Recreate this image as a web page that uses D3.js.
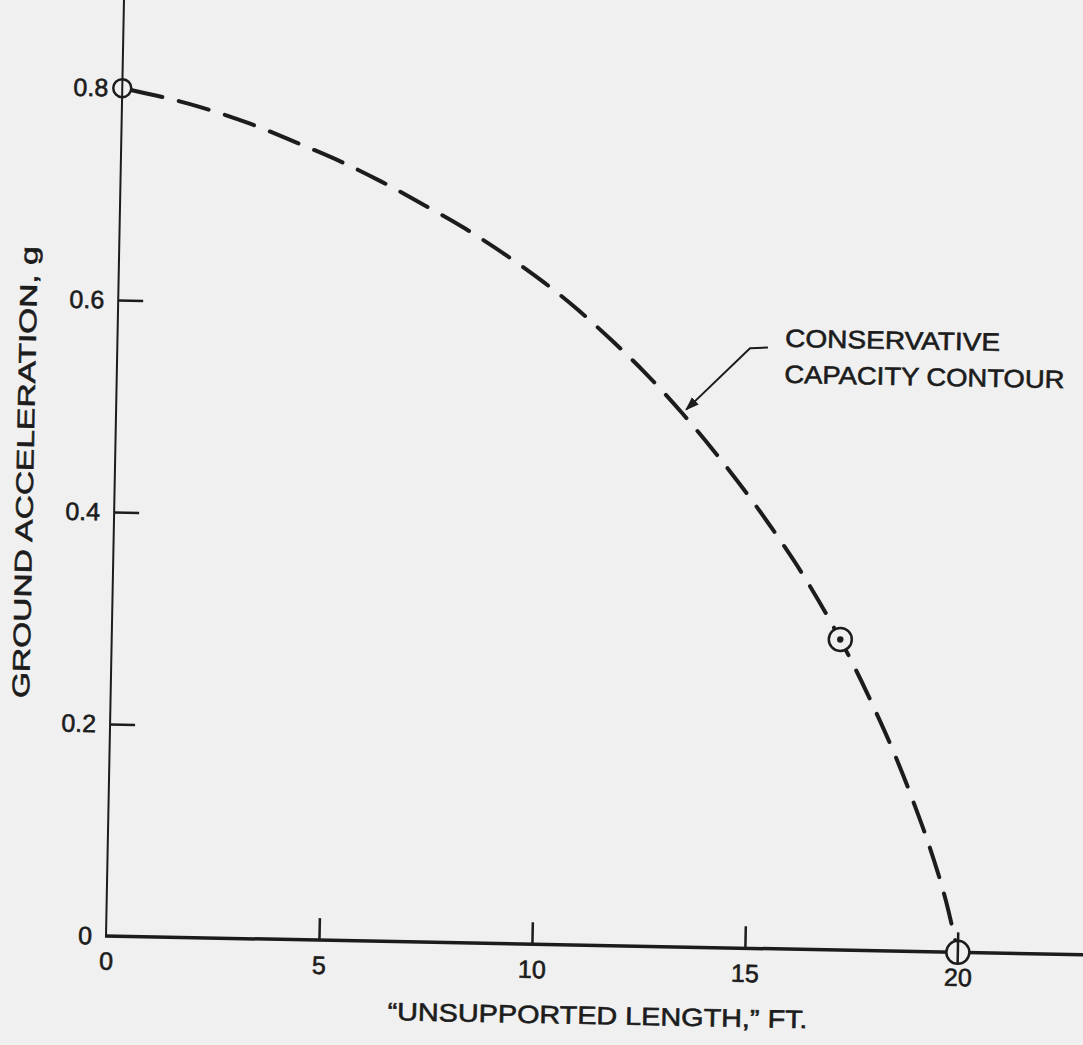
<!DOCTYPE html>
<html>
<head>
<meta charset="utf-8">
<script src="https://cdn.jsdelivr.net/npm/d3@7"></script>
<style>
  html, body { margin: 0; padding: 0; background: #f0f0f0; }
  svg { display: block; }
</style>
</head>
<body>
<div id="vis"></div>
<script>
// capacity contour (ft, g)
var lengthFt = [0, 1.8, 3.0, 4.1, 5.2, 6.1, 7.1, 8.1, 9.1, 10.0, 10.8, 11.6, 12.4, 13.3, 14.1, 15.6, 16.2, 17.1, 17.9, 18.5, 18.9, 19.35, 19.7, 20];
var accelG = [0.8, 0.784, 0.769, 0.752, 0.734, 0.717, 0.696, 0.674, 0.649, 0.624, 0.599, 0.571, 0.541, 0.503, 0.466, 0.388, 0.353, 0.293, 0.231, 0.179, 0.140, 0.092, 0.048, 0];

// circled points on the contour
var markerFt = [0, 17.1, 20];
var markerG = [0.8, 0.293, 0];
var markerKind = ['open', 'dot', 'cross'];

var xTicks = [0, 5, 10, 15, 20];
var yTicks = [0, 0.2, 0.4, 0.6, 0.8];

var xTitle = '\u201CUNSUPPORTED LENGTH,\u201D FT.';
var yTitle = 'GROUND ACCELERATION, g';
var noteLines = ['CONSERVATIVE', 'CAPACITY CONTOUR'];

var width = 1083;
var height = 1045;
var paper = '#f0f0f0';
var ink = '#1c1c1c';
var font = '"Liberation Sans", Arial, sans-serif';

var svg = d3.select('#vis')
    .append('svg')
    .attr('width', width)
    .attr('height', height);

svg.append('rect')
    .attr('width', width)
    .attr('height', height)
    .attr('fill', paper);

// the scanned page sits a little crooked, so rotate the whole plot
var g = svg.append('g')
    .attr('transform', 'translate(106,936) rotate(1.1)');

var x = d3.scaleLinear().domain([0, 20]).range([0, 852]);
var y = d3.scaleLinear().domain([0, 0.8]).range([0, -848]);

// axis lines
g.append('line')
    .attr('x1', x(0)).attr('x2', x(0))
    .attr('y1', y(0)).attr('y2', y(0.885))
    .attr('stroke', ink)
    .attr('stroke-width', 2);

g.append('line')
    .attr('x1', x(0) - 1).attr('x2', x(23.5))
    .attr('y1', y(0)).attr('y2', y(0))
    .attr('stroke', ink)
    .attr('stroke-width', 3.5);

var yAxis = g.append('g')
    .call(d3.axisLeft(y)
        .tickValues(yTicks)
        .tickSize(-25)
        .tickPadding(14)
        .tickFormat(function (d) { return d === 0 ? '0' : d3.format('.1f')(d); }));

var xAxis = g.append('g')
    .call(d3.axisBottom(x)
        .tickValues(xTicks)
        .tickSize(-22)
        .tickPadding(16)
        .tickFormat(d3.format('d')));

[yAxis, xAxis].forEach(function (ax) {
    ax.select('.domain').remove();
    ax.attr('font-family', font).attr('font-size', 25);
    ax.selectAll('text')
        .attr('fill', ink)
        .attr('stroke', ink)
        .attr('stroke-width', 0.6);
    ax.selectAll('.tick line').attr('stroke', ink).attr('stroke-width', 2.5);
});
yAxis.selectAll('.tick line').filter(function (d) { return d === 0 || d === 0.8; }).remove();
xAxis.selectAll('.tick line').filter(function (d) { return d === 0 || d === 20; }).remove();

// axis titles
g.append('text')
    .attr('transform', 'translate(-90,' + y(0.436) + ') rotate(-90)')
    .attr('text-anchor', 'middle')
    .attr('dy', '0.35em')
    .attr('font-family', font)
    .attr('font-size', 24)
    .attr('textLength', 452)
    .attr('lengthAdjust', 'spacingAndGlyphs')
    .attr('fill', ink)
    .attr('stroke', ink)
    .attr('stroke-width', 0.6)
    .text(yTitle);

g.append('text')
    .attr('x', 493)
    .attr('y', 70)
    .attr('text-anchor', 'middle')
    .attr('dy', '0.35em')
    .attr('font-family', font)
    .attr('font-size', 25)
    .attr('textLength', 420)
    .attr('lengthAdjust', 'spacingAndGlyphs')
    .attr('fill', ink)
    .attr('stroke', ink)
    .attr('stroke-width', 0.6)
    .text(xTitle);

// dashed contour
var points = lengthFt.map(function (d, i) { return [d, accelG[i]]; });

var line = d3.line()
    .x(function (d) { return x(d[0]); })
    .y(function (d) { return y(d[1]); })
    .curve(d3.curveMonotoneX);

g.append('path')
    .datum(points)
    .attr('d', line)
    .attr('fill', 'none')
    .attr('stroke', ink)
    .attr('stroke-width', 4)
    .attr('stroke-linecap', 'round')
    .attr('stroke-dasharray', '31,17')
    .attr('stroke-dashoffset', -10);

// circled points
var markers = markerFt.map(function (d, i) {
    return { ft: d, g: markerG[i], kind: markerKind[i] };
});

var mk = g.selectAll('.marker')
    .data(markers)
    .enter().append('g')
    .attr('class', 'marker')
    .attr('transform', function (d) { return 'translate(' + x(d.ft) + ',' + y(d.g) + ')'; });

mk.append('circle')
    .attr('r', function (d) { return d.kind === 'open' ? 9 : 11.5; })
    .attr('fill', function (d) { return d.kind === 'open' ? 'none' : paper; })
    .attr('stroke', ink)
    .attr('stroke-width', 2.5);

mk.filter(function (d) { return d.kind === 'dot'; })
    .append('circle')
    .attr('r', 3.2)
    .attr('fill', ink);

mk.filter(function (d) { return d.kind === 'cross'; })
    .append('line')
    .attr('y1', -20).attr('y2', 11.5)
    .attr('stroke', ink)
    .attr('stroke-width', 2.5);

// annotation with arrow
svg.append('defs').append('marker')
    .attr('id', 'head')
    .attr('viewBox', '0 0 10 10')
    .attr('refX', 9).attr('refY', 5)
    .attr('markerWidth', 7).attr('markerHeight', 7)
    .attr('markerUnits', 'strokeWidth')
    .attr('orient', 'auto')
    .append('path')
    .attr('d', 'M0,1.5 L10,5 L0,8.5 Z')
    .attr('fill', ink);

g.append('path')
    .attr('d', 'M' + x(15.27) + ',' + y(0.567) +
               'L' + x(14.85) + ',' + y(0.566) +
               'L' + x(13.38) + ',' + y(0.507))
    .attr('fill', 'none')
    .attr('stroke', ink)
    .attr('stroke-width', 2)
    .attr('marker-end', 'url(#head)');

var note = g.append('text')
    .attr('font-family', font)
    .attr('font-size', 25)
    .attr('fill', ink)
    .attr('stroke', ink)
    .attr('stroke-width', 0.6);

noteLines.forEach(function (t, i) {
    note.append('tspan')
        .attr('x', x(15.67))
        .attr('y', y(0.568) + i * 36)
        .attr('textLength', i === 0 ? 215 : 280)
        .attr('lengthAdjust', 'spacingAndGlyphs')
        .text(t);
});
</script>
</body>
</html>
